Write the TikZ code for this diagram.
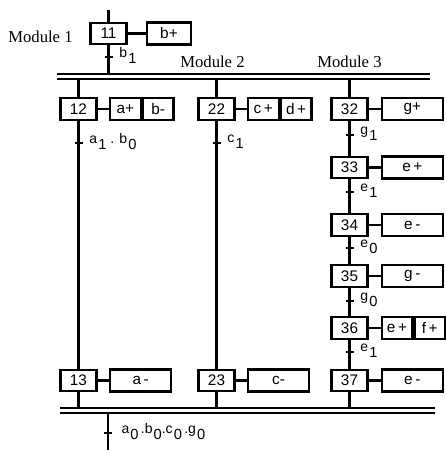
\documentclass[tikz,border=0pt]{standalone}
\usepackage{fontspec}
\setmainfont{Liberation Serif}
\setsansfont{Liberation Sans}
\usetikzlibrary{positioning}
\newcommand{\ix}[1]{\kern0.8pt\raisebox{-0.8ex}{\fontsize{11}{12}\selectfont #1}}

\begin{document}
\begin{tikzpicture}[
  x=0.75pt,
  y=-0.75pt,
  etape/.style={draw,line width=1.6pt,fill=white,minimum width=27pt,
    minimum height=16pt,inner sep=0pt,font=\sffamily\fontsize{11.5}{12}\selectfont},
  action/.style={draw,line width=1.6pt,fill=white,minimum width=46pt,
    minimum height=16.5pt,inner sep=0pt,font=\sffamily\fontsize{11.5}{12}\selectfont},
  demi/.style={action,minimum width=23pt},
  lien/.style={line width=1.6pt},
  recep/.style={anchor=west,inner sep=0pt,font=\sffamily\fontsize{10.5}{12}\selectfont},
  module/.style={anchor=west,inner sep=0pt,font=\fontsize{12.5}{14}\selectfont}
]
  \useasboundingbox (0,0) rectangle (446,450);

  % Module 1
  \coordinate (top) at (108.5,10);
  \node[etape] (s11) at (108.5,33.5) {11};
  \node[action,minimum width=32.5pt,right=14pt of s11] (a11) {b+};
  \node[module] (m1) at (8,37) {Module 1};

  % Double barre haute
  \coordinate (h1) at (57,74);
  \coordinate (h2) at (430,74);
  \coordinate (h3) at (57,79);
  \coordinate (h4) at (430,79);
  \draw[lien] (h1) -- (h2);
  \draw[lien] (h3) -- (h4);
  \node[module] (m2) at (180,62) {Module 2};
  \node[module] (m3) at (317,62) {Module 3};

  % Module 2 : colonne gauche
  \node[etape] (s12) at (78.5,109) {12};
  \node[demi,right=8.5pt of s12] (a12) {a+};
  \node[demi,right=0pt of a12] (b12) {b-};
  \node[etape] (s13) at (78.5,380.5) {13};
  \node[action,right=8.5pt of s13] (a13) {a\,-};

  % Module 2 : colonne milieu
  \node[etape] (s22) at (216.5,109) {22};
  \node[demi,right=8.5pt of s22] (a22) {c\,+};
  \node[demi,right=0pt of a22] (b22) {d\,+};
  \node[etape] (s23) at (216.5,380.5) {23};
  \node[action,right=8.5pt of s23] (a23) {c-};

  % Module 3
  \node[etape] (s32) at (349.5,109) {32};
  \node[action,right=9pt of s32] (a32) {g+};
  \node[etape] (s33) at (349.5,167.5) {33};
  \node[action,right=9pt of s33] (a33) {e\,+};
  \node[etape] (s34) at (349.5,225) {34};
  \node[action,right=9pt of s34] (a34) {e\,-};
  \node[etape] (s35) at (349.5,276) {35};
  \node[action,right=9pt of s35] (a35) {g\,-};
  \node[etape] (s36) at (349.5,328) {36};
  \node[demi,right=9pt of s36] (a36) {e\,+};
  \node[demi,right=0pt of a36] (b36) {f\,+};
  \node[etape] (s37) at (349.5,380.5) {37};
  \node[action,right=9pt of s37] (a37) {e\,-};

  % Double barre basse
  \coordinate (b1) at (60,408);
  \coordinate (b2) at (435,408);
  \coordinate (b3) at (60,413);
  \coordinate (b4) at (435,413);
  \draw[lien] (b1) -- (b2);
  \draw[lien] (b3) -- (b4);
  \coordinate (fin) at (108,450);

  % Liaisons verticales
  \draw[lien] (top) -- (s11);
  \draw[lien] (s11) -- (s11 |- h1);
  \draw[lien] (s12 |- h3) -- (s12);
  \draw[lien] (s22 |- h3) -- (s22);
  \draw[lien] (s32 |- h3) -- (s32);
  \draw[lien] (s12) -- (s13);
  \draw[lien] (s22) -- (s23);
  \draw[lien] (s32) -- (s33);
  \draw[lien] (s33) -- (s34);
  \draw[lien] (s34) -- (s35);
  \draw[lien] (s35) -- (s36);
  \draw[lien] (s36) -- (s37);
  \draw[lien] (s13) -- (s13 |- b1);
  \draw[lien] (s23) -- (s23 |- b1);
  \draw[lien] (s37) -- (s37 |- b1);
  \draw[lien] (fin |- b3) -- (fin);

  % Liaisons etape -- action
  \foreach \e in {11,12,13,22,23,32,33,34,35,36,37}
    \draw[lien] (s\e) -- (a\e);

  % Transitions
  \foreach \x/\y/\n in {108.5/57/t1,78.5/143/t2,216.5/143/t3,
                        349.5/135/t4,349.5/192/t5,349.5/248/t6,
                        349.5/301/t7,349.5/352/t8,108/433/t9}
  {
    \coordinate (\n) at (\x,\y);
    \draw[lien] ([xshift=-3pt]\n) -- ([xshift=3pt]\n);
  }
  \node[recep] (r1) at ([xshift=8pt,yshift=1pt]t1) {b\ix{1}};
  \node[recep] (r2) at ([xshift=8pt,yshift=1pt]t2) {a\ix{1} . b\ix{0}};
  \node[recep] (r3) at ([xshift=8pt,yshift=1pt]t3) {c\ix{1}};
  \node[recep] (r4) at ([xshift=8pt,yshift=1pt]t4) {g\ix{1}};
  \node[recep] (r5) at ([xshift=8pt,yshift=1pt]t5) {e\ix{1}};
  \node[recep] (r6) at ([xshift=8pt,yshift=1pt]t6) {e\ix{0}};
  \node[recep] (r7) at ([xshift=8pt,yshift=1pt]t7) {g\ix{0}};
  \node[recep] (r8) at ([xshift=8pt,yshift=1pt]t8) {e\ix{1}};
  \node[recep] (r9) at ([xshift=10pt,yshift=1pt]t9)
    {a\ix{0}\,.b\ix{0}.c\ix{0}\,.g\ix{0}};
\end{tikzpicture}
\end{document}
